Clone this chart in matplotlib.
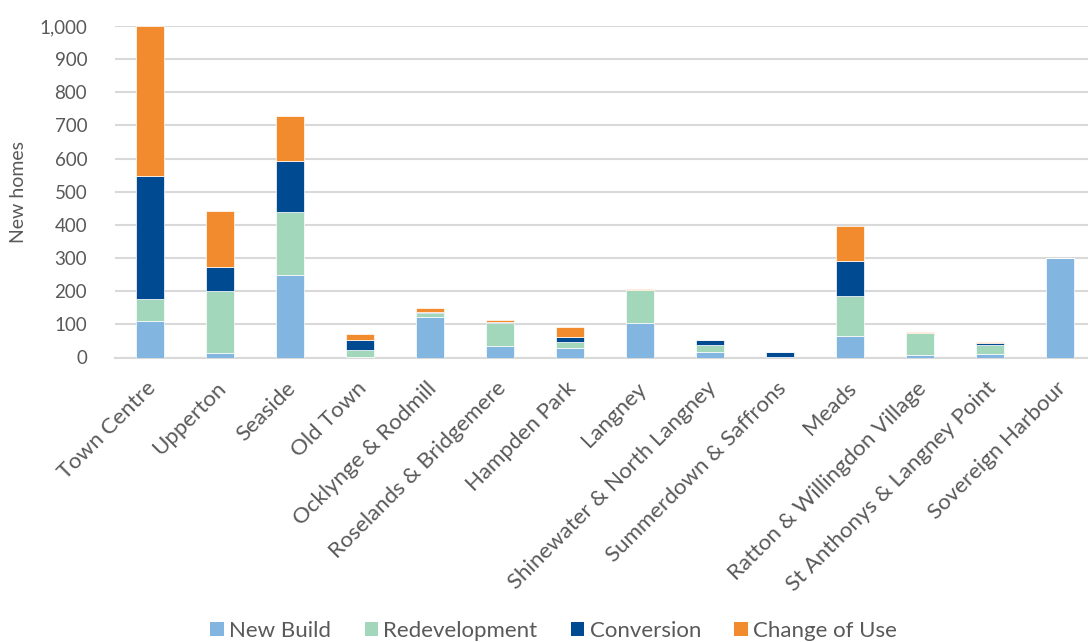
import matplotlib
matplotlib.use("Agg")
import matplotlib.pyplot as plt
import matplotlib.transforms as mtransforms
import numpy as np
from matplotlib.patches import Patch

categories = ["Town Centre", "Upperton", "Seaside", "Old Town", "Ocklynge & Rodmill",
              "Roselands & Bridgemere", "Hampden Park", "Langney",
              "Shinewater & North Langney", "Summerdown & Saffrons", "Meads",
              "Ratton & Willingdon Village", "St Anthonys & Langney Point",
              "Sovereign Harbour"]
new_build = [110, 14, 250, 2, 123, 35, 29, 105, 17, 2, 65, 8, 10, 299]
redevelopment = [66, 188, 189, 20, 12, 69, 18, 99, 20, 0, 120, 66, 28, 0]
conversion = [372, 70, 154, 30, 2, 4, 15, 0, 17, 14, 107, 0, 7, 0]
change_of_use = [452, 170, 136, 20, 12, 5, 29, 2, 0, 0, 104, 3, 2, 0]
series_names = ["New Build", "Redevelopment", "Conversion", "Change of Use"]
colors = ["#82B6E0", "#A2D7BC", "#004A91", "#F18B2E"]
yticks = [0, 100, 200, 300, 400, 500, 600, 700, 800, 900, 1000]

plt.rcParams['font.family'] = ['Lato', 'DejaVu Sans']
txt = "#595959"

fig = plt.figure(figsize=(10.88, 6.42), dpi=100)
W, H = 1088, 642
ax = fig.add_axes([115 / W, (H - 357.5) / H, (1095 - 115) / W, (357.5 - 26) / H])

x = np.arange(len(categories))
bottom = np.zeros(len(categories))
for vals, name, c in zip([new_build, redevelopment, conversion, change_of_use], series_names, colors):
    v = np.array(vals, dtype=float)
    ax.bar(x, v, bottom=bottom, width=0.39, color=c, edgecolor="white", linewidth=0.5,
           label=name, zorder=3)
    bottom += v

ax.set_xlim(-0.5, len(categories) - 0.5)
ax.set_ylim(0, 1000)
ax.set_yticks(yticks)
ax.set_yticklabels([f"{t:,}" for t in yticks], fontsize=13.5, color=txt)
ax.yaxis.grid(True, color="#D9D9D9", linewidth=1.5, zorder=0)
ax.set_axisbelow(True)
for s in ["top", "right", "left"]:
    ax.spines[s].set_visible(False)
ax.spines["bottom"].set_color("#D9D9D9")
ax.spines["bottom"].set_linewidth(1.5)
ax.tick_params(axis="y", length=0, pad=20)
ax.tick_params(axis="x", length=0, pad=20)
ax.set_xticks(x)
ax.set_xticklabels(categories, rotation=45, ha="right", va="center", rotation_mode="anchor",
                   fontsize=16, color=txt)
offset = mtransforms.ScaledTranslation(3 / 100, 0, fig.dpi_scale_trans)
for lab in ax.get_xticklabels():
    lab.set_transform(lab.get_transform() + offset)
ax.set_ylabel("New homes", fontsize=14, color=txt, labelpad=9)

handles = [Patch(facecolor=c, edgecolor="none", label=n) for n, c in zip(series_names, colors)]
fig.legend(handles=handles, loc="lower center", bbox_to_anchor=(0.509, -0.03), ncol=4,
           frameon=False, fontsize=16, labelcolor=txt, handlelength=0.6, handleheight=0.6,
           handletextpad=0.25, columnspacing=1.5)

fig.savefig("out.png", dpi=100)
